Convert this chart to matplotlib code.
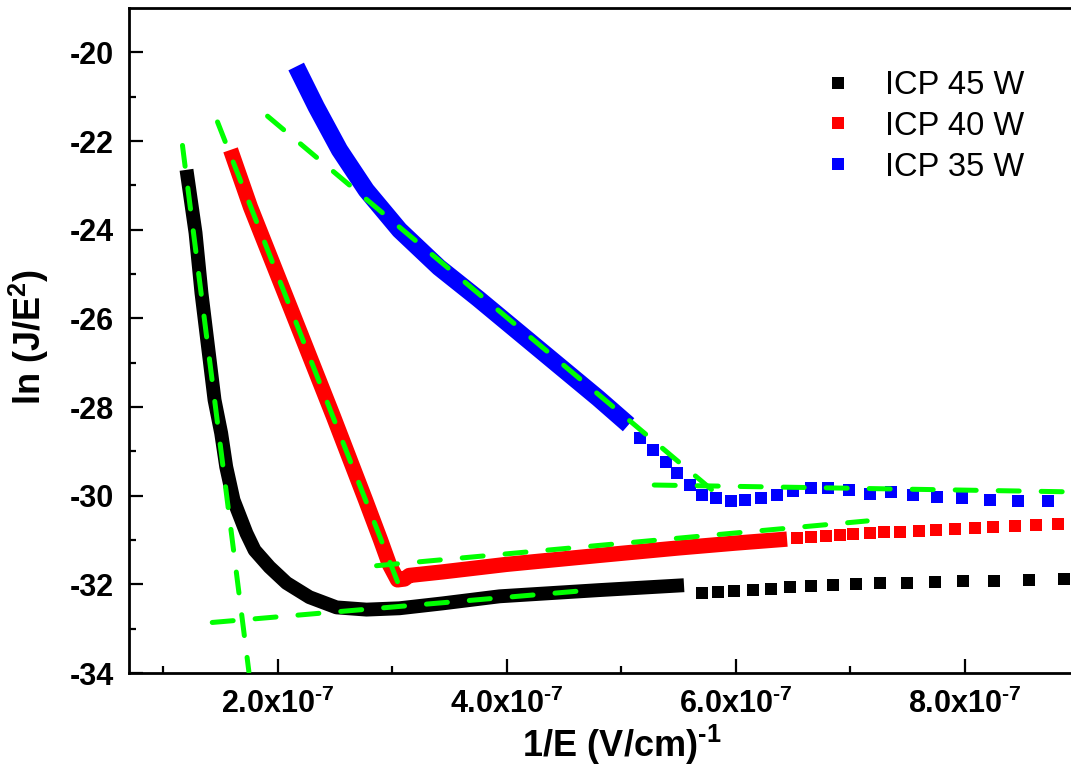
import numpy as np
import matplotlib
matplotlib.use("Agg")
import matplotlib.pyplot as plt

plt.rcParams['font.family'] = ['Liberation Sans', 'DejaVu Sans']
plt.rcParams['axes.unicode_minus'] = False
plt.rcParams['mathtext.fontset'] = 'custom'
plt.rcParams['mathtext.rm'] = 'Liberation Sans:bold'
plt.rcParams['mathtext.bf'] = 'Liberation Sans:bold'
plt.rcParams['mathtext.it'] = 'Liberation Sans:bold'

# 1/E in units of 1e-7 cm/V, ln(J/E^2)
# ICP 45 W: dense low-field branch, then the sparse high-1/E points
x45_dense = [1.205, 1.284, 1.336, 1.45, 1.508, 1.552, 1.616, 1.729, 1.80, 1.93, 2.079, 2.279, 2.515,
             2.777, 3.065, 3.441, 3.94, 4.81, 5.55]
y45_dense = [-22.65, -24.07, -25.43, -27.84, -28.59, -29.35, -30.10, -30.85, -31.23, -31.61, -31.97, -32.29,
             -32.52, -32.57, -32.54, -32.43, -32.27, -32.13, -32.02]
x45_sparse = [5.71, 5.85, 5.99, 6.15, 6.31, 6.48, 6.66, 6.85, 7.05, 7.26, 7.50, 7.74, 7.99, 8.26, 8.56, 8.87]
y45_sparse = [-32.20, -32.17, -32.14, -32.12, -32.10, -32.07, -32.04, -32.01, -31.99, -31.97, -31.96, -31.94,
              -31.93, -31.92, -31.90, -31.89]

# ICP 40 W
x40_dense = [1.590, 1.764, 1.913, 2.200, 2.489, 2.769, 2.900, 2.978, 3.048, 3.109, 3.15, 3.44, 4.00, 4.80,
             5.50, 6.00, 6.45]
y40_dense = [-22.20, -23.49, -24.46, -26.33, -28.22, -30.10, -31.00, -31.56, -31.90, -31.88, -31.80, -31.72,
             -31.55, -31.35, -31.18, -31.07, -30.98]
x40_sparse = [6.54, 6.66, 6.79, 6.91, 7.03, 7.17, 7.30, 7.44, 7.60, 7.75, 7.92, 8.09, 8.25, 8.44, 8.62, 8.82]
y40_sparse = [-30.95, -30.93, -30.91, -30.89, -30.87, -30.85, -30.83, -30.81, -30.79, -30.77, -30.75, -30.73,
              -30.71, -30.69, -30.67, -30.65]

# ICP 35 W
x35_dense = [2.163, 2.338, 2.541, 2.775, 3.066, 3.41, 3.75, 4.10, 4.45, 4.80, 5.066]
y35_dense = [-20.32, -21.23, -22.20, -23.11, -24.01, -24.85, -25.55, -26.30, -27.05, -27.80, -28.40]
x35_sparse = [5.17, 5.275, 5.39, 5.485, 5.60, 5.71, 5.83, 5.96, 6.08, 6.22, 6.36, 6.50, 6.655, 6.81,
              6.99, 7.17, 7.36, 7.55, 7.76, 7.98, 8.22, 8.47, 8.73]
y35_sparse = [-28.70, -28.97, -29.24, -29.49, -29.76, -29.98, -30.05, -30.12, -30.10, -30.05, -29.98, -29.90,
              -29.83, -29.82, -29.88, -29.97, -29.92, -29.98, -30.03, -30.06, -30.10, -30.12, -30.12]

# linear fits (end points), same units
fit_x = [[1.17, 1.75], [1.43, 4.64], [1.476, 3.048], [2.865, 7.15], [1.913, 5.90], [5.29, 9.3]]
fit_y = [[-22.10, -33.97], [-32.86, -32.15], [-21.57, -31.94], [-31.58, -30.57], [-21.44, -30.10], [-29.76, -29.93]]

labels = ['ICP 45 W', 'ICP 40 W', 'ICP 35 W']
colors = ['#000000', '#ff0000', '#0000ff']
band_widths = [10.0, 11.0, 12.5]

xticks = [2.0, 4.0, 6.0, 8.0]
xminor = [1.0, 3.0, 5.0, 7.0, 9.0]
yticks = [-34, -32, -30, -28, -26, -24, -22, -20]

W, H = 1071, 778
fig = plt.figure(figsize=(W / 100, H / 100), dpi=100)
ax = fig.add_axes([129 / W, 105 / H, 986 / W, 665 / H])

sets = [(x45_dense, y45_dense, x45_sparse, y45_sparse),
        (x40_dense, y40_dense, x40_sparse, y40_sparse),
        (x35_dense, y35_dense, x35_sparse, y35_sparse)]

msize = 9.2
for (xd, yd, xs, ys), c, lab, bw in zip(sets, colors, labels, band_widths):
    xd = np.array(xd) * 1e-7
    xs = np.array(xs) * 1e-7
    # densely sampled part reads as a solid band of squares
    ax.plot(xd, yd, '-', color=c, lw=bw, solid_capstyle='butt', solid_joinstyle='round', zorder=2)
    ax.plot(xs, ys, 's', color=c, ms=msize, mew=0, zorder=2)
    ax.plot([], [], 's', color=c, ms=8.5, mew=0, label=lab)

for fx, fy in zip(fit_x, fit_y):
    ax.plot(np.array(fx) * 1e-7, fy, '-', color='#00ff00', lw=3.6,
            dashes=(4.2, 4.4), dash_capstyle='round', zorder=3)

ax.set_xlim(0.703e-7, 9.314e-7)
ax.set_ylim(-34, -19)

ax.set_xticks(np.array(xticks) * 1e-7)
ax.set_xticklabels([r'$%.1fx10^{\text{-7}}$' % v for v in xticks])
ax.set_xticks(np.array(xminor) * 1e-7, minor=True)
ax.set_yticks(yticks)
ax.set_yticks(np.arange(-33, -19, 2), minor=True)

ax.tick_params(which='both', direction='in', width=1.6, labelsize=22)
ax.tick_params(which='major', length=10, pad=11)
ax.tick_params(which='minor', length=5)
for t in ax.get_yticklabels():
    t.set_fontweight('bold')
for s in ax.spines.values():
    s.set_linewidth(2.0)

ax.set_xlabel(r'$1/E\ (V/cm)^{\text{-1}}$', fontsize=26, labelpad=2)
ax.set_ylabel(r'ln (J/E$^\mathbf{2}$)', fontsize=26, fontweight='bold')
ax.yaxis.set_label_coords(-0.079, 0.505)

ax.legend(loc='upper left', bbox_to_anchor=(828 / W, 1 - 70 / H), bbox_transform=fig.transFigure,
          frameon=False, fontsize=23.5, handlelength=0.6, handletextpad=1.15, labelspacing=0.3,
          borderaxespad=0, borderpad=0)

fig.savefig('out.png', dpi=100)
